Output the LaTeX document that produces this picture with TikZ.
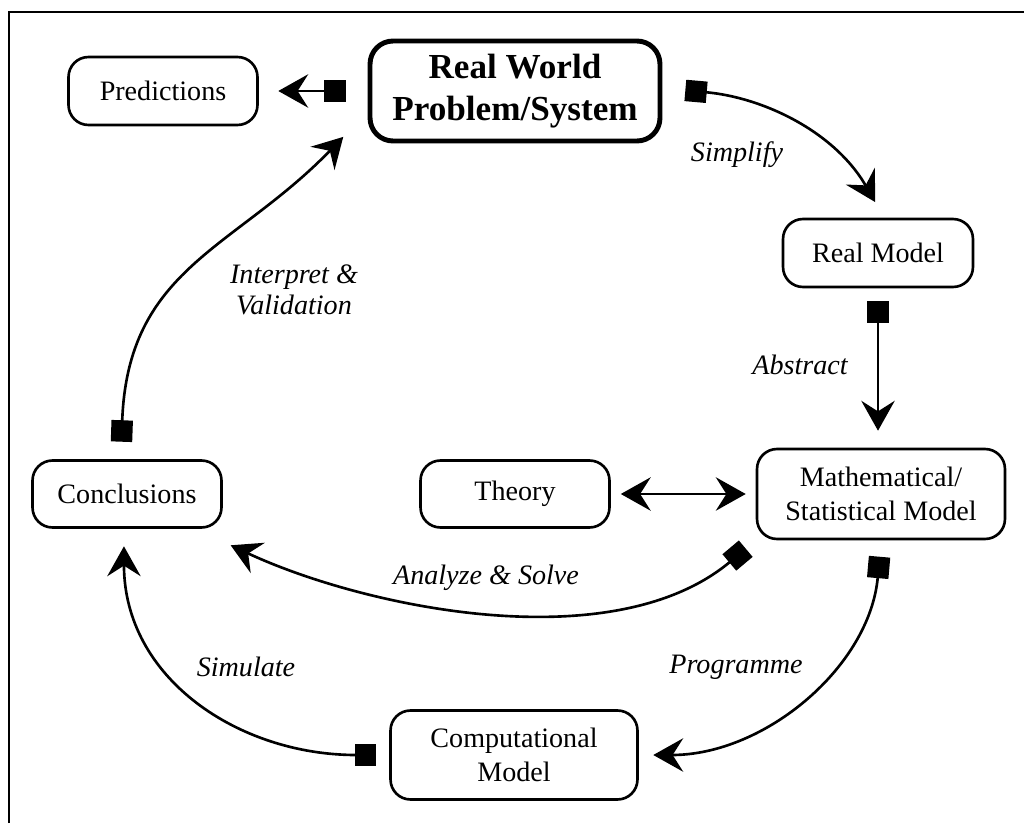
\documentclass[tikz,border=0pt]{standalone}
\usepackage{fontspec}
\setmainfont{Liberation Serif}
\usetikzlibrary{arrows.meta}

\begin{document}
\begin{tikzpicture}[x=0.02cm, y=0.02cm, line width=1.5pt,
  box/.style={draw, rounded corners=0.4cm, align=center, inner sep=0pt,
    font=\fontsize{16}{19.5}\selectfont},
  conn/.style={{Square[length=12.2pt,width=12.2pt]}-{Stealth[length=17pt,width=19pt,inset=6pt]}},
  both/.style={{Stealth[length=17pt,width=19pt,inset=6pt]}-{Stealth[length=17pt,width=19pt,inset=6pt]}},
  lbl/.style={font=\fontsize{16}{18}\selectfont\itshape, align=center}]
  \useasboundingbox (0,0) rectangle (1024,823);

  % frame
  \draw (9,0) -- (9,811) -- (1024,811);

  % boxes
  \node[box, line width=2.8pt, rounded corners=0.46cm, font=\fontsize{20}{24}\selectfont\bfseries,
    minimum width=5.8cm, minimum height=2cm] (rw) at (515,732) {Real World\\Problem/System};
  \node[box, minimum width=3.78cm, minimum height=1.36cm] (pred) at (163,732) {Predictions};
  \node[box, minimum width=3.8cm, minimum height=1.36cm] (rmodel) at (878,570) {Real Model};
  \node[box, minimum width=4.96cm, minimum height=1.8cm] (math) at (881,329) {Mathematical/\\Statistical Model};
  \node[box, minimum width=3.78cm, minimum height=1.34cm] (theory) at (515,329) {Theory};
  \node[box, minimum width=3.78cm, minimum height=1.34cm] (concl) at (127,329) {Conclusions};
  \node[box, minimum width=4.94cm, minimum height=1.78cm] (comp) at (514,68) {Computational\\Model};

  % connectors
  \draw[conn, shorten <=0.44cm, shorten >=0.39cm] (rw.west) -- (pred.east);
  \draw[conn, shorten <=0.46cm, shorten >=0.36cm] (rw.1) to[out=-5, in=120] (rmodel.80);
  \draw[conn, shorten <=0.26cm, shorten >=0.34cm] (rmodel.south) -- (rmodel.south |- math.north);
  \draw[both, shorten <=0.2cm, shorten >=0.2cm] (theory.east) -- (math.west);
  \draw[conn, shorten <=0.26cm, shorten >=0.78cm] (math.south west) to[out=220, in=-25, looseness=0.85] (concl.-27);
  \draw[conn, shorten <=0.33cm, shorten >=0.29cm] (math.south) to[out=-95, in=0] (comp.east);
  \draw[conn, shorten <=0.26cm, shorten >=0.35cm] (comp.west) to[out=180, in=-90, looseness=1.1] (concl.-95);
  \draw[conn, shorten <=0.35cm, shorten >=0.7cm] (concl.100) to[out=88, in=-134, looseness=1.15] (rw.188);

  % labels
  \node[lbl] (l_simplify) at (737,668) {Simplify};
  \node[lbl] (l_abstract) at (800,458) {Abstract};
  \node[lbl] (l_interpret) at (294,533) {Interpret \&\\Validation};
  \node[lbl] (l_analyze) at (486,245) {Analyze \& Solve};
  \node[lbl] (l_simulate) at (246,156) {Simulate};
  \node[lbl] (l_programme) at (736,156) {Programme};
\end{tikzpicture}
\end{document}
